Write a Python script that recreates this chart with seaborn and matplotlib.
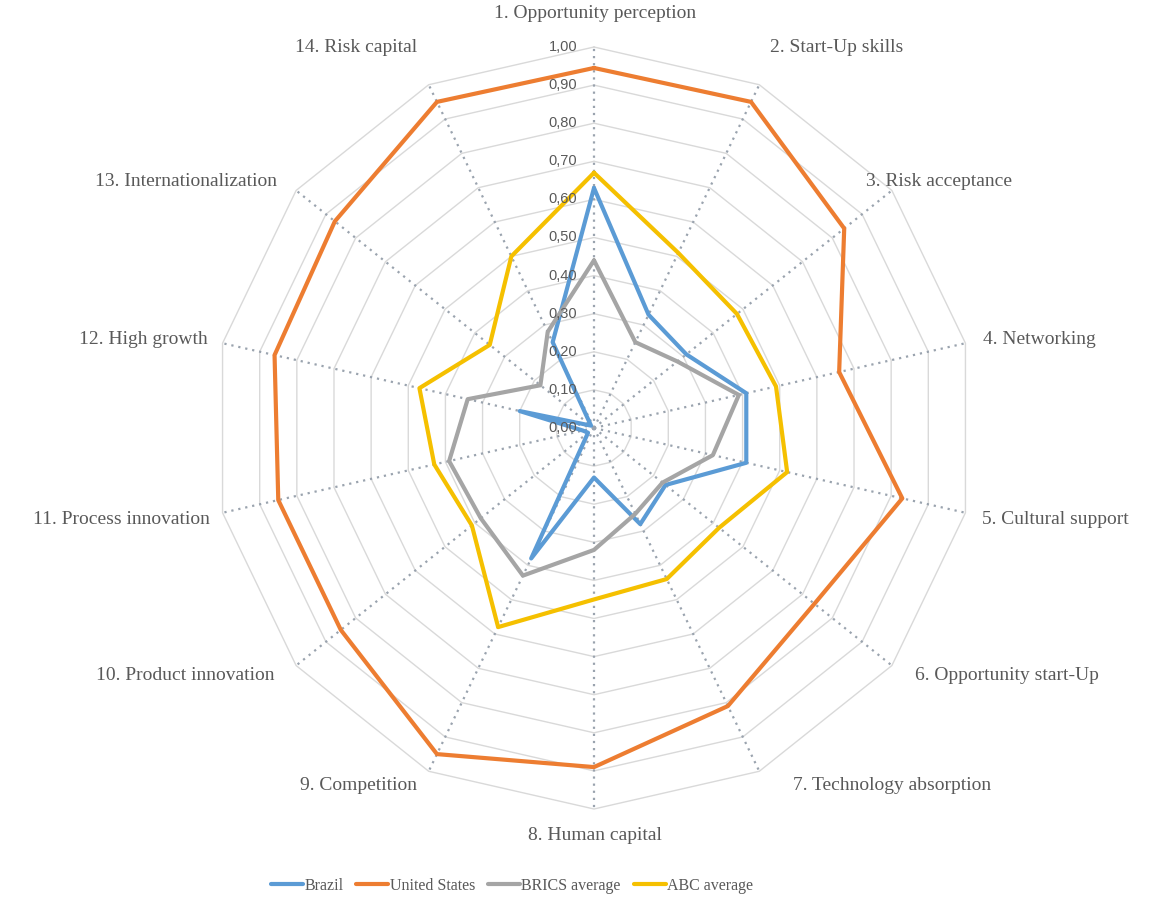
import numpy as np
import pandas as pd
import matplotlib
matplotlib.use("Agg")
import matplotlib.pyplot as plt
from matplotlib.lines import Line2D
import seaborn as sns

categories = ["1. Opportunity perception", "2. Start-Up skills", "3. Risk acceptance",
              "4. Networking", "5. Cultural support", "6. Opportunity start-Up",
              "7. Technology absorption", "8. Human capital", "9. Competition",
              "10. Product innovation", "11. Process innovation", "12. High growth",
              "13. Internationalization", "14. Risk capital"]
brazil = [0.63, 0.33, 0.31, 0.41, 0.41, 0.24, 0.28, 0.13, 0.38, 0.02, 0.03, 0.20, 0.01, 0.25]
united_states = [0.945, 0.95, 0.84, 0.66, 0.83, 0.74, 0.81, 0.89, 0.95, 0.85, 0.85, 0.86, 0.87, 0.95]
brics_avg = [0.44, 0.25, 0.28, 0.39, 0.32, 0.23, 0.25, 0.32, 0.43, 0.38, 0.39, 0.34, 0.18, 0.28]
abc_avg = [0.67, 0.51, 0.48, 0.49, 0.52, 0.42, 0.44, 0.45, 0.58, 0.41, 0.43, 0.47, 0.35, 0.50]
series_names = ["Brazil", "United States", "BRICS average", "ABC average"]
series_colors = ["#5B9BD5", "#ED7D31", "#A5A5A5", "#F5C000"]
ring_values = [0.0, 0.1, 0.2, 0.3, 0.4, 0.5, 0.6, 0.7, 0.8, 0.9, 1.0]
ring_labels = ["0,00", "0,10", "0,20", "0,30", "0,40", "0,50", "0,60", "0,70", "0,80", "0,90", "1,00"]

sns.set_theme(style="white")
plt.rcParams["font.family"] = ["Liberation Serif", "DejaVu Serif"]

W, H = 1157, 902
fig = plt.figure(figsize=(W / 100, H / 100), dpi=100)
cx, cy, R = 594, 428, 381
ax = fig.add_axes([(cx - R) / W, (H - cy - R) / H, 2 * R / W, 2 * R / H], projection="polar")
ax.set_theta_zero_location("N")
ax.set_theta_direction(-1)
ax.set_ylim(0, 1.0)
ax.grid(False)
ax.spines["polar"].set_visible(False)
ax.set_xticks([])
ax.set_yticks([])

n = len(categories)
theta = np.linspace(0, 2 * np.pi, n, endpoint=False)
theta_closed = np.append(theta, 2 * np.pi)

# polygon gridlines
for rv in ring_values[1:]:
    ax.plot(theta_closed, [rv] * (n + 1), color="#D9D9D9", lw=1.0, zorder=1, clip_on=False)
# dotted spokes
for t in theta:
    ax.plot([t, t], [0, 1.0], color="#9AA3AE", lw=1.6, ls=(0, (1, 2.2)), zorder=1.5)

rows = []
for name, vals in zip(series_names, [brazil, united_states, brics_avg, abc_avg]):
    closed = list(vals) + [vals[0]]
    for t, v in zip(theta_closed, closed):
        rows.append({"theta": t, "value": v, "series": name})
df = pd.DataFrame(rows)

sns.lineplot(data=df, x="theta", y="value", hue="series", hue_order=series_names,
             palette=series_colors, estimator=None, sort=False, lw=3.0, ax=ax,
             legend=False, zorder=3)
ax.set_xlabel("")
ax.set_ylabel("")
ax.set_ylim(0, 1.0)

# radial tick labels
for rv, lab in zip(ring_values, ring_labels):
    ax.annotate(lab, xy=(0, rv), xytext=(-17, 0), textcoords="offset pixels",
                ha="right", va="center", fontsize=10.5, color="#595959",
                family=["Liberation Sans", "DejaVu Sans"], zorder=4)

# category labels (pixel positions from reference layout)
label_pos = [
    (595, 14, "center"), (770, 47, "left"), (866, 182, "left"), (983, 340, "left"),
    (982, 520, "left"), (915, 676, "left"), (793, 785, "left"), (595, 835, "center"),
    (417, 785, "right"), (274, 676, "right"), (210, 520, "right"), (208, 340, "right"),
    (277, 182, "right"), (417, 47, "right"),
]
for lab, (px, py, ha) in zip(categories, label_pos):
    fig.text(px / W, 1 - py / H, lab, ha=ha, va="center", fontsize=14, color="#595959")

handles = [Line2D([], [], color=c, lw=3) for c in series_colors]
fig.legend(handles, series_names, loc="center", bbox_to_anchor=(512 / W, 1 - 886 / H),
           ncol=4, frameon=False, fontsize=11.5, handlelength=2.0, handletextpad=0.1,
           columnspacing=0.8, labelcolor="#595959")

fig.savefig("out.png", dpi=100)
